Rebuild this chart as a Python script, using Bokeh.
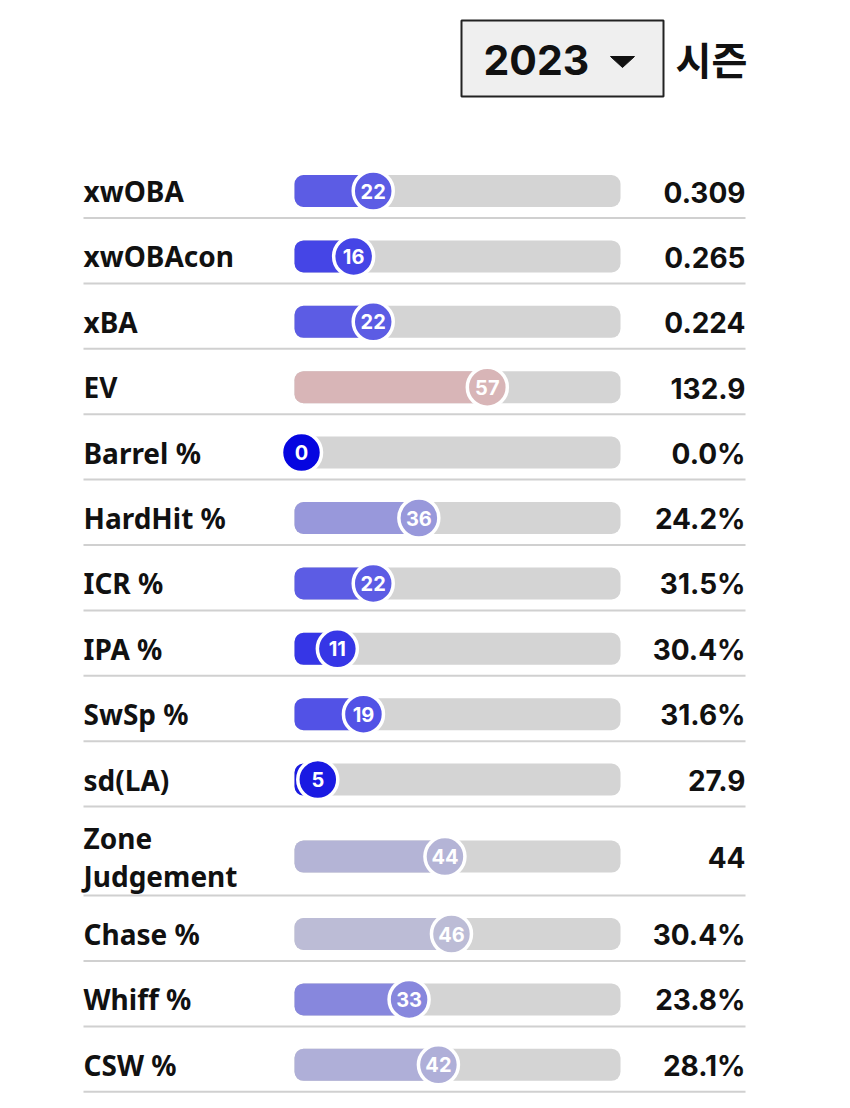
from bokeh.plotting import figure
from bokeh.models import Range1d, ColumnDataSource
from bokeh.core.properties import value
from bokeh.embed import file_html
from bokeh.resources import INLINE

# ---- data ----
season = "2023"
season_word = "시즌"
labels = ["xwOBA", "xwOBAcon", "xBA", "EV", "Barrel %", "HardHit %", "ICR %",
          "IPA %", "SwSp %", "sd(LA)", "Zone\nJudgement", "Chase %", "Whiff %", "CSW %"]
percentiles = [22, 16, 22, 57, 0, 36, 22, 11, 19, 5, 44, 46, 33, 42]
stat_values = ["0.309", "0.265", "0.224", "132.9", "0.0%", "24.2%", "31.5%",
               "30.4%", "31.6%", "27.9", "44", "30.4%", "23.8%", "28.1%"]

# ---- style: colour per percentile ----
pct_colors = {0: "#0505e0", 5: "#1a1ae2", 11: "#3636e6", 16: "#4545e6", 19: "#5252e6",
              22: "#5c5ce4", 33: "#8787dd", 36: "#9898db", 42: "#afafd8", 44: "#b4b4d6",
              46: "#bcbcd6", 57: "#d8b5b7"}
colors = [pct_colors[v] for v in percentiles]

# ---- layout (pixel helpers) ----
W, H = 850, 1108
X0, SCALE = 301.0, 3.26          # percentile 0 sits at pixel 301, 3.26 px per point
def px(x):
    return (x - X0) / SCALE

TRACK_L, TRACK_R = px(294), px(620)
LABEL_X, VALUE_X = px(83), px(745)
row_heights = [65.4 if "\n" not in l else 89.0 for l in labels]
first_sep = 217.5

seps, centers = [], []
prev = first_sep - row_heights[0]
for lab, h in zip(labels, row_heights):
    sep = prev + h
    seps.append(sep)
    centers.append(sep - 27 if "\n" not in lab else sep - 39)
    prev = sep

p = figure(width=W, height=H, output_backend="svg", toolbar_location=None,
           x_range=Range1d(px(0), px(W)), y_range=Range1d(H, 0),
           min_border=0, outline_line_color=None, background_fill_color="white")
p.axis.visible = False
p.grid.visible = False

# separators
p.segment(x0=[LABEL_X] * len(seps), x1=[VALUE_X] * len(seps), y0=seps, y1=seps,
          line_color="#d0d0d0", line_width=2)

# tracks
p.quad(left=[TRACK_L] * len(centers), right=[TRACK_R] * len(centers),
       top=[c - 16 for c in centers], bottom=[c + 16 for c in centers],
       fill_color="#d4d4d4", line_color=None, border_radius=9)

# filled portions
fl = [(c, v, col) for c, v, col in zip(centers, percentiles, colors) if v > 0]
p.quad(left=[TRACK_L] * len(fl), right=[v for _, v, _ in fl],
       top=[c - 16 for c, _, _ in fl], bottom=[c + 16 for c, _, _ in fl],
       fill_color=[col for _, _, col in fl], line_color=None, border_radius=9)

# circles
src = ColumnDataSource(dict(x=percentiles, y=centers, c=colors,
                            t=[str(v) for v in percentiles]))
p.scatter("x", "y", source=src, size=40, fill_color="c", line_color="white", line_width=3.5)
p.text("x", "y", text="t", source=src, text_color="white", text_font=value("Inter"),
       text_font_style="bold", text_font_size="20px", text_align="center",
       text_baseline="middle")

# labels
lx, ly, lt = [], [], []
for lab, c in zip(labels, centers):
    parts = lab.split("\n")
    if len(parts) == 1:
        lx.append(LABEL_X); ly.append(c); lt.append(lab)
    else:
        for i, part in enumerate(parts):
            lx.append(LABEL_X); ly.append(c - 19 + 38 * i); lt.append(part)
p.text(x=lx, y=ly, text=lt, text_color="#111111", text_font=value("Noto Sans"),
       text_font_style="bold", text_font_size="28px", text_align="left",
       text_baseline="middle")

# values
p.text(x=[VALUE_X] * len(centers), y=[c + 1 for c in centers], text=stat_values,
       text_color="#111111", text_font=value("Inter"), text_font_style="bold",
       text_font_size="28px", text_align="right", text_baseline="middle")

# season dropdown
p.quad(left=[px(461)], right=[px(663)], top=[20], bottom=[96],
       fill_color="#efefef", line_color="#222222", line_width=2)
p.text(x=[px(483)], y=[59], text=[season], text_color="#111111",
       text_font=value("Inter"), text_font_style="bold", text_font_size="41px",
       text_align="left", text_baseline="middle")
p.patch(x=[px(610), px(634), px(622)], y=[56, 56, 67], fill_color="#111111",
        line_color="#111111")
p.text(x=[px(675)], y=[57], text=[season_word], text_color="#111111",
       text_font=value("Noto Sans CJK KR"), text_font_style="bold",
       text_font_size="39px", text_align="left", text_baseline="middle")

open("out.html", "w").write(file_html(p, INLINE))
